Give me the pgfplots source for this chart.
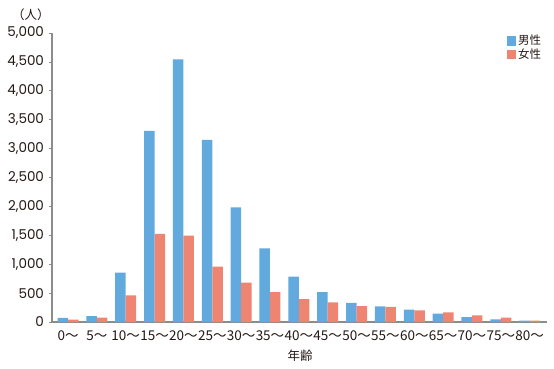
\documentclass[border=0pt]{standalone}
\usepackage{fontspec}
\setmainfont{Noto Sans CJK JP}
\newfontfamily\pop{Poppins}
\usepackage{pgfplots}
\pgfplotsset{compat=1.18}
\definecolor{mblue}{HTML}{62A9DE}
\definecolor{fred}{HTML}{EE8572}
\definecolor{axgray}{HTML}{8C8C8C}
\definecolor{txt}{HTML}{231815}
\begin{document}
\begin{tikzpicture}[x=1pt,y=1pt]
\path[use as bounding box] (0,0) rectangle (554,368);
\begin{axis}[
  at={(52pt,46pt)}, anchor=south west,
  scale only axis, width=495pt, height=289pt,
  xmin=-0.555, xmax=16.6, ymin=0, ymax=5000,
  axis x line*=bottom, axis y line*=left,
  axis line style={axgray, line width=1.2pt},
  ybar=0pt, bar width=10.5pt,
  xtick={0,...,16},
  xticklabels={0〜,5〜,10〜,15〜,20〜,25〜,30〜,35〜,40〜,45〜,50〜,55〜,60〜,65〜,70〜,75〜,80〜},
  x tick style={draw=none},
  ytick={0,500,...,5000},
  y tick style={axgray, line width=0.8pt},
  tick align=outside, major tick length=3.5pt,
  /pgf/number format/assume math mode=true,
  /pgf/number format/1000 sep={,},
  xticklabel style={font=\fontsize{13.5}{15}\selectfont, text=txt, yshift=-2pt},
  yticklabel style={font=\pop\fontsize{13.5}{15}\selectfont, text=txt, xshift=-1pt},
  legend style={at={(0.918,1.0)}, anchor=north west, draw=none, fill=none,
    font=\fontsize{11.5}{13}\selectfont, text=txt, row sep=-1.5pt, inner sep=0pt},
  legend cell align=left,
  legend image code/.code={\fill[#1,draw=none] (0pt,-4.75pt) rectangle (9.5pt,4.75pt);},
  clip=false,
]
\addplot[fill=mblue, draw=none] coordinates {
(0,70) (1,100) (2,855) (3,3305) (4,4545) (5,3149) (6,1985) (7,1275) (8,784)
(9,517) (10,330) (11,270) (12,215) (13,145) (14,85) (15,45) (16,25)};
\addplot[fill=fred, draw=none] coordinates {
(0,40) (1,75) (2,460) (3,1525) (4,1495) (5,957) (6,680) (7,519) (8,398)
(9,340) (10,275) (11,260) (12,200) (13,165) (14,115) (15,75) (16,25)};
\legend{男性,女性}
\end{axis}
\node[font=\fontsize{12.5}{14}\selectfont, text=txt] at (31,353) {（人）};
\node[font=\fontsize{12.5}{14}\selectfont, text=txt] at (300,12) {年齢};
\end{tikzpicture}
\end{document}
